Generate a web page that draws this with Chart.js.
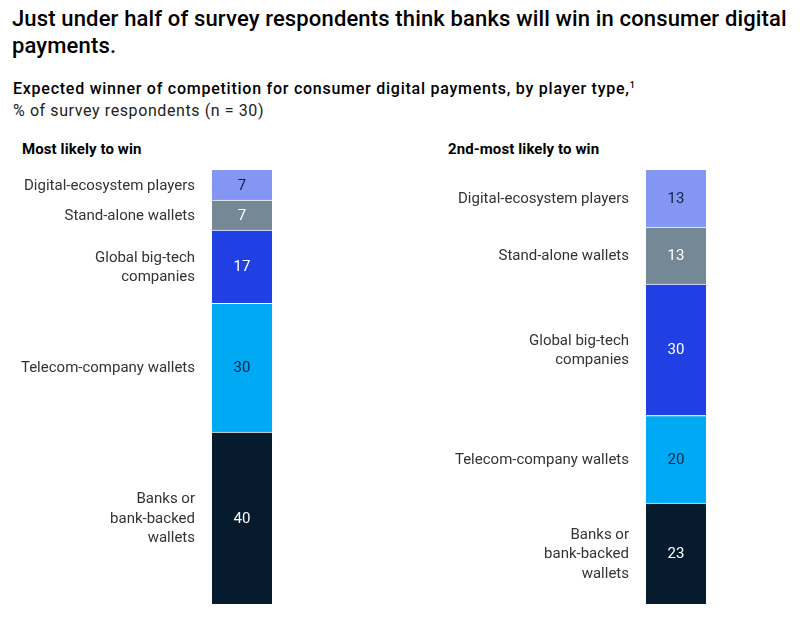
<!DOCTYPE html>
<html>
<head>
<meta charset="utf-8">
<script src="https://cdn.jsdelivr.net/npm/chart.js@4/dist/chart.umd.min.js"></script>
<style>
  html, body { margin: 0; padding: 0; background: #fff; }
  body { width: 804px; height: 620px; position: relative; overflow: hidden; font-family: Roboto, "Liberation Sans", sans-serif; color: #000; }
  .title { position: absolute; left: 12px; top: 5px; width: 792px; font-size: 22px; font-weight: 500; line-height: 27px; letter-spacing: 0.15px; }
  .sub1 { position: absolute; left: 13px; top: 79px; font-size: 16px; font-weight: 500; letter-spacing: 0.75px; }
  .sub1 sup { font-size: 9px; }
  .sub2 { position: absolute; left: 13px; top: 101px; font-size: 16px; font-weight: 400; color: #222; letter-spacing: 0.6px; }
  .head { position: absolute; top: 140px; font-size: 15px; font-weight: 700; letter-spacing: 0.1px; }
  canvas { position: absolute; left: 0; top: 0; }
</style>
</head>
<body>
<div class="title">Just under half of survey respondents think banks will win in consumer digital payments.</div>
<div class="sub1">Expected winner of competition for consumer digital payments, by player type,<sup>1</sup></div>
<div class="sub2">% of survey respondents (n = 30)</div>
<div class="head" style="left:22px">Most likely to win</div>
<div class="head" style="left:448px">2nd-most likely to win</div>
<div style="position:absolute;left:0;top:0;width:804px;height:620px"><canvas id="c1" width="804" height="620"></canvas></div>
<div style="position:absolute;left:0;top:0;width:804px;height:620px"><canvas id="c2" width="804" height="620"></canvas></div>
<script>
// Categories, bottom of stack first
const categories = ["Banks or bank-backed wallets", "Telecom-company wallets", "Global big-tech companies", "Stand-alone wallets", "Digital-ecosystem players"];
const categoryLines = [["Banks or", "bank-backed", "wallets"], ["Telecom-company wallets"], ["Global big-tech", "companies"], ["Stand-alone wallets"], ["Digital-ecosystem players"]];
const mostLikely = [40, 30, 17, 7, 7];
const secondMost = [23, 20, 30, 13, 13];

const fills = ["#061C2E", "#00A9F4", "#2140E3", "#758896", "#8396F3"];
const valueColors = ["#ffffff", "#0B2740", "#ffffff", "#ffffff", "#0B2740"];

const labelPlugin = {
  id: 'segLabels',
  afterDatasetsDraw(chart) {
    const ctx = chart.ctx;
    ctx.save();
    chart.data.datasets.forEach((ds, i) => {
      const bar = chart.getDatasetMeta(i).data[0];
      const yc = (bar.y + bar.base) / 2 + 1;
      ctx.font = '400 15px Roboto, "Liberation Sans", sans-serif';
      ctx.textBaseline = 'middle';
      ctx.textAlign = 'center';
      ctx.fillStyle = valueColors[i];
      ctx.fillText(String(ds.data[0]), bar.x, yc);
      ctx.textAlign = 'right';
      ctx.fillStyle = '#333333';
      const lines = categoryLines[i];
      const lh = 19.5;
      const x = bar.x - bar.width / 2 - 17;
      lines.forEach((ln, k) => {
        ctx.fillText(ln, x, yc + (k - (lines.length - 1) / 2) * lh);
      });
    });
    ctx.restore();
  }
};

function makeChart(id, values, padLeft, padRight) {
  const total = values.reduce((a, b) => a + b, 0);
  return new Chart(document.getElementById(id), {
    type: 'bar',
    data: {
      labels: ['x'],
      datasets: values.map((v, i) => ({
        label: categories[i],
        data: [v],
        backgroundColor: fills[i],
        borderColor: '#ffffff',
        borderWidth: i === values.length - 1 ? 0 : { top: 1, bottom: 0, left: 0, right: 0 },
        borderSkipped: false,
        barPercentage: 1,
        categoryPercentage: 1
      }))
    },
    options: {
      responsive: false,
      animation: false,
      devicePixelRatio: 1,
      layout: { padding: { left: padLeft, right: padRight, top: 170, bottom: 16 } },
      plugins: { legend: { display: false }, tooltip: { enabled: false } },
      scales: {
        x: { stacked: true, display: false },
        y: { stacked: true, display: false, min: 0, max: total }
      }
    },
    plugins: [labelPlugin]
  });
}

makeChart('c1', mostLikely, 212, 804 - 272);
makeChart('c2', secondMost, 646, 804 - 706);
</script>
</body>
</html>
